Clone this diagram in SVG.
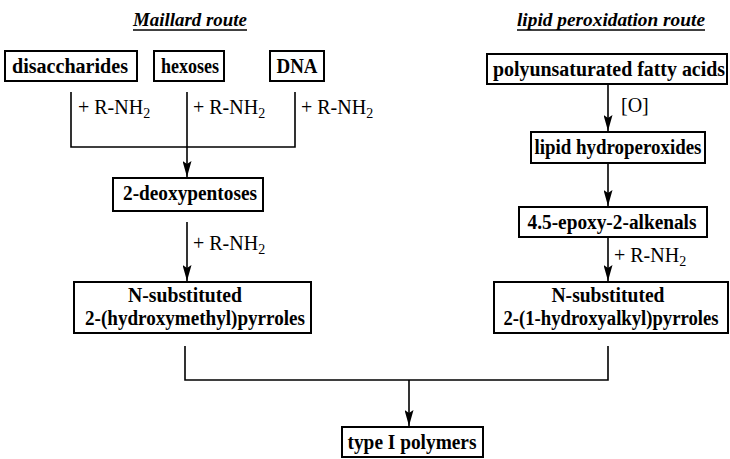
<svg xmlns="http://www.w3.org/2000/svg" width="730" height="459" viewBox="0 0 730 459">
  <style>
    .box { fill: #fff; stroke: #000; stroke-width: 2; }
    .lbl { font-family: "Liberation Serif", "Times New Roman", serif; font-weight: bold; font-size: 20px; fill: #000; text-anchor: middle; }
    .rx { font-family: "Liberation Serif", "Times New Roman", serif; font-size: 20px; fill: #000; }
    .ttl { font-family: "Liberation Serif", "Times New Roman", serif; font-weight: bold; font-style: italic; font-size: 19px; fill: #000; text-anchor: middle; }
    .ln { fill: none; stroke: #000; stroke-width: 1.6; }
    .ul { stroke: #000; stroke-width: 1.3; }
  </style>
  <defs>
    <marker id="ah" markerWidth="16" markerHeight="9" refX="16" refY="4.5" orient="auto" markerUnits="userSpaceOnUse" viewBox="0 0 16 9">
      <path d="M0,0 L16,4.5 L0,9 L3,4.5 Z" fill="#000"/>
    </marker>
  </defs>
  <rect width="730" height="459" fill="#fff"/>

  <!-- route headings -->
  <g id="heading-maillard">
    <text class="ttl" x="190" y="26" textLength="114" lengthAdjust="spacingAndGlyphs">Maillard route</text>
    <line class="ul" x1="133" y1="30" x2="247" y2="30"/>
  </g>
  <g id="heading-lipid">
    <text class="ttl" x="611" y="26" textLength="188" lengthAdjust="spacingAndGlyphs">lipid peroxidation route</text>
    <line class="ul" x1="517" y1="30" x2="705" y2="30"/>
  </g>

  <!-- nodes -->
  <g id="disaccharides">
    <rect class="box" x="5" y="51" width="132" height="30"/>
    <text class="lbl" x="70" y="73" textLength="116" lengthAdjust="spacingAndGlyphs">disaccharides</text>
  </g>
  <g id="hexoses">
    <rect class="box" x="154" y="51" width="70" height="30"/>
    <text class="lbl" x="190" y="73" textLength="58" lengthAdjust="spacingAndGlyphs">hexoses</text>
  </g>
  <g id="dna">
    <rect class="box" x="270" y="51" width="54" height="30"/>
    <text class="lbl" x="297" y="73" textLength="41" lengthAdjust="spacingAndGlyphs">DNA</text>
  </g>
  <g id="deoxypentoses">
    <rect class="box" x="113" y="178" width="150" height="33"/>
    <text class="lbl" x="190" y="200" textLength="134" lengthAdjust="spacingAndGlyphs">2-deoxypentoses</text>
  </g>
  <g id="hydroxymethylpyrroles">
    <rect class="box" x="74" y="282" width="237" height="51"/>
    <text class="lbl" x="185" y="302" textLength="114" lengthAdjust="spacingAndGlyphs">N-substituted</text>
    <text class="lbl" x="195" y="325" textLength="220" lengthAdjust="spacingAndGlyphs">2-(hydroxymethyl)pyrroles</text>
  </g>
  <g id="pufa">
    <rect class="box" x="487" y="54" width="240" height="30"/>
    <text class="lbl" x="609" y="76" textLength="232" lengthAdjust="spacingAndGlyphs">polyunsaturated fatty acids</text>
  </g>
  <g id="lipid-hydroperoxides">
    <rect class="box" x="531" y="132" width="174" height="31"/>
    <text class="lbl" x="618" y="154" textLength="167" lengthAdjust="spacingAndGlyphs">lipid hydroperoxides</text>
  </g>
  <g id="epoxyalkenals">
    <rect class="box" x="519" y="207" width="188" height="30"/>
    <text class="lbl" x="612" y="229" textLength="169" lengthAdjust="spacingAndGlyphs">4.5-epoxy-2-alkenals</text>
  </g>
  <g id="hydroxyalkylpyrroles">
    <rect class="box" x="494" y="282" width="234" height="51"/>
    <text class="lbl" x="608" y="302" textLength="113" lengthAdjust="spacingAndGlyphs">N-substituted</text>
    <text class="lbl" x="611" y="325" font-size="19.5" textLength="215" lengthAdjust="spacingAndGlyphs">2-(1-hydroxyalkyl)pyrroles</text>
  </g>
  <g id="type-i-polymers">
    <rect class="box" x="342" y="427" width="141" height="30"/>
    <text class="lbl" x="412" y="449" textLength="129" lengthAdjust="spacingAndGlyphs">type I polymers</text>
  </g>

  <!-- connectors -->
  <g id="connectors">
    <path class="ln" d="M71,92 V147 H295 V92"/>
    <path class="ln" d="M187,92 V177" marker-end="url(#ah)"/>
    <path class="ln" d="M187,222 V281" marker-end="url(#ah)"/>
    <path class="ln" d="M608,85 V131" marker-end="url(#ah)"/>
    <path class="ln" d="M608,164 V206" marker-end="url(#ah)"/>
    <path class="ln" d="M608,238 V281" marker-end="url(#ah)"/>
    <path class="ln" d="M185,346 V380 H608 V346"/>
    <path class="ln" d="M409,380 V426" marker-end="url(#ah)"/>

    <text class="rx" x="78" y="114">+ R-NH<tspan font-size="14" dy="4">2</tspan></text>
    <text class="rx" x="193" y="114">+ R-NH<tspan font-size="14" dy="4">2</tspan></text>
    <text class="rx" x="301" y="114">+ R-NH<tspan font-size="14" dy="4">2</tspan></text>
    <text class="rx" x="193" y="250">+ R-NH<tspan font-size="14" dy="4">2</tspan></text>
    <text class="rx" x="614" y="262">+ R-NH<tspan font-size="14" dy="4">2</tspan></text>
    <text class="rx" x="621" y="112">[O]</text>
  </g>
</svg>
